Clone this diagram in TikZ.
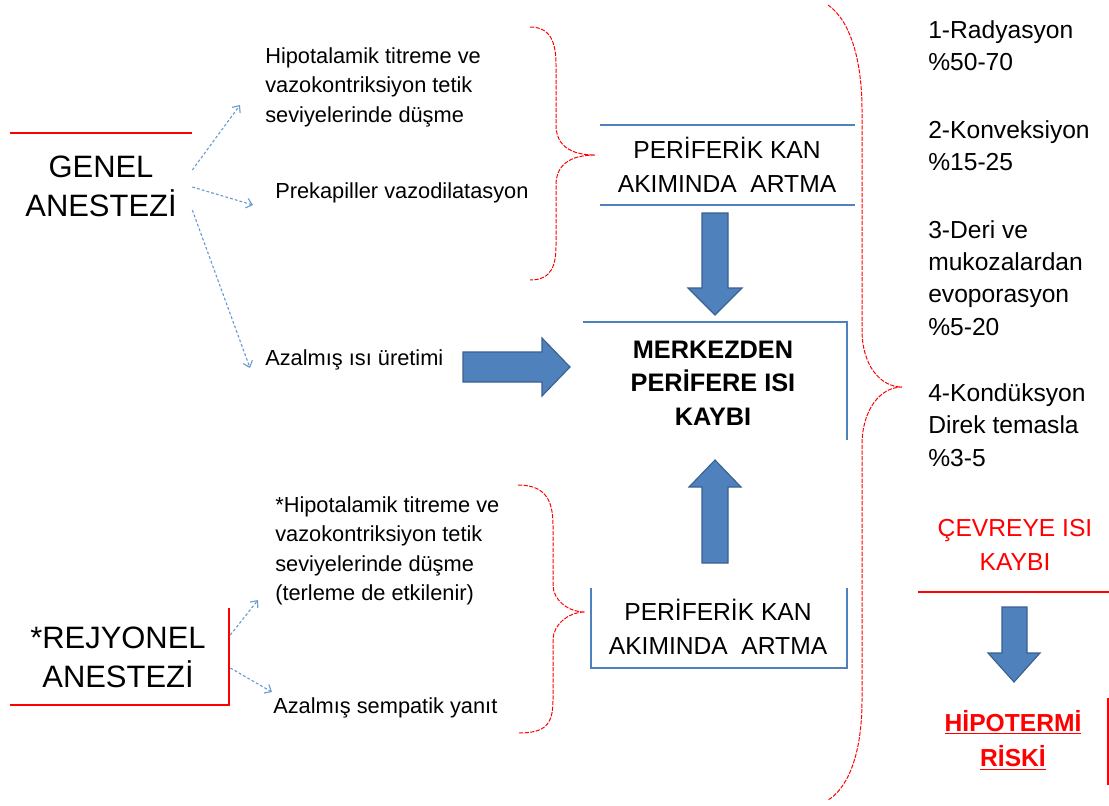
\documentclass[tikz,border=0pt]{standalone}
\usepackage{fontspec}
\setmainfont{Liberation Sans}
\usetikzlibrary{calc,arrows.meta}

\definecolor{lineblue}{HTML}{4F81BD}
\definecolor{arrowblue}{HTML}{4F81BD}
\definecolor{arrowedge}{HTML}{3A6090}
\definecolor{dotblue}{HTML}{6A9BD0}

\tikzset{
  small/.style={font=\fontsize{15.5}{21}\selectfont, align=left, anchor=west, inner sep=0},
  big/.style={font=\fontsize{22}{27.6}\selectfont, align=center, inner sep=0},
  mid/.style={font=\fontsize{17.5}{24}\selectfont, align=center, inner sep=0},
  side/.style={font=\fontsize{17.5}{23}\selectfont, align=left, anchor=west, inner sep=0},
  hint/.style={dotblue, line width=0.8pt, dash pattern=on 2pt off 1.5pt, -{Straight Barb[length=4pt,width=7pt]}},
  brace/.style={red, line width=0.7pt, dash pattern=on 3pt off 1pt},
  boxline/.style={lineblue, line width=1.1pt},
  redline/.style={red, line width=1.5pt},
  fat/.style={fill=arrowblue, draw=arrowedge, line width=0.8pt, line join=miter}
}

\begin{document}
\begin{tikzpicture}[x=0.025cm, y=-0.025cm]
  \useasboundingbox (0,0) rectangle (1109,805);

  % anesthesia types
  \node[big, minimum width=4.55cm] (genel) at (101,186) {GENEL\\ANESTEZİ};
  \node[big, minimum width=5.6cm] (rejyonel) at (118,657) {*REJYONEL\\ANESTEZİ};
  \draw[redline] (10,133) -- (192,133);
  \draw[redline] (10,705) -- (229,705) -- (229,608);

  % effects
  \node[small] (hipo1) at (265,87) {Hipotalamik titreme ve\\vazokontriksiyon tetik\\seviyelerinde düşme};
  \node[small] (prekap) at (275,193) {Prekapiller vazodilatasyon};
  \node[small] (azisi) at (265,360) {Azalmış ısı üretimi};
  \node[small] (hipo2) at (275,551) {*Hipotalamik titreme ve\\vazokontriksiyon tetik\\seviyelerinde düşme\\(terleme de etkilenir)};
  \node[small] (sempatik) at (273,708) {Azalmış sempatik yanıt};

  \draw[hint] ($(genel.east)+(0,-16)$) -- ($(hipo1.west)+(-25,18)$);
  \draw[hint] ($(genel.east)+(0,1)$) -- ($(prekap.west)+(-22,12)$);
  \draw[hint] ($(genel.east)+(0,24)$) -- ($(azisi.west)+(-15,8)$);
  \draw[hint] ($(rejyonel.east)+(0,-22)$) -- ($(hipo2.west)+(-17,49)$);
  \draw[hint] ($(rejyonel.east)+(0,11)$) -- ($(sempatik.west)+(-1,-16)$);

  % braces
  \draw[brace] (530,27) .. controls (552,27) and (556,45) .. (556,65) -- (556,125)
    .. controls (556,145) and (570,155) .. (595,155)
    .. controls (570,155) and (556,165) .. (556,185) -- (556,245)
    .. controls (556,265) and (552,280) .. (530,280);
  \draw[brace] (518,485) .. controls (545,485) and (553,500) .. (553,525) -- (553,585)
    .. controls (553,600) and (568,612) .. (585,612)
    .. controls (568,612) and (553,625) .. (553,640) -- (553,700)
    .. controls (553,725) and (545,733) .. (518,733);
  \draw[brace] (828,5) .. controls (850,20) and (862,60) .. (862,110) -- (862,330)
    .. controls (862,365) and (880,387) .. (902,387)
    .. controls (880,387) and (862,410) .. (862,445) -- (862,700)
    .. controls (862,760) and (845,790) .. (828,800);

  % centre column
  \node[mid] (perif1) at (727,165) {PERİFERİK KAN\\AKIMINDA~~ARTMA};
  \draw[boxline] (600,125) -- (855,125);
  \draw[boxline] (600,205) -- (855,205);
  \node[mid, font=\fontsize{18}{23.7}\selectfont\bfseries] (merkez) at (713,383) {MERKEZDEN\\PERİFERE ISI\\KAYBI};
  \draw[boxline] (583,322) -- (847,322) -- (847,440);
  \node[mid] (perif2) at (718,627) {PERİFERİK KAN\\AKIMINDA~~ARTMA};
  \draw[boxline] (591,588) -- (591,668) -- (847,668) -- (847,588);

  \draw[fat] (702,213) -- (728,213) -- (728,288) -- (742,288) -- (715,315) -- (688,288) -- (702,288) -- cycle;
  \draw[fat] (463,352) -- (542,352) -- (542,338) -- (570,367) -- (542,396) -- (542,382) -- (463,382) -- cycle;
  \draw[fat] (702,563) -- (702,487) -- (689,487) -- (715,460) -- (741,487) -- (728,487) -- (728,563) -- cycle;

  % heat loss routes
  \node[side] (rad) at (928,46) {1-Radyasyon\\\%50-70};
  \node[side] (konv) at (928,146) {2-Konveksiyon\\\%15-25};
  \node[side] (deri) at (928,278) {3-Deri ve\\mukozalardan\\evoporasyon\\\%5-20};
  \node[side] (kond) at (928,425) {4-Kondüksyon\\Direk temasla\\\%3-5};

  \node[mid, text=red] (cevre) at (1015,545) {ÇEVREYE ISI\\KAYBI};
  \draw[redline] (918,592) -- (1109,592);
  \draw[fat] (1002,607) -- (1027,607) -- (1027,653) -- (1040,653) -- (1014,682) -- (988,653) -- (1002,653) -- cycle;
  \node[mid, text=red, font=\fontsize{17.5}{25.5}\selectfont\bfseries] (hipotermi) at (1013,740) {\underline{HİPOTERMİ}\\\underline{RİSKİ}};
  \draw[redline] (1108,698) -- (1108,785);
\end{tikzpicture}
\end{document}
